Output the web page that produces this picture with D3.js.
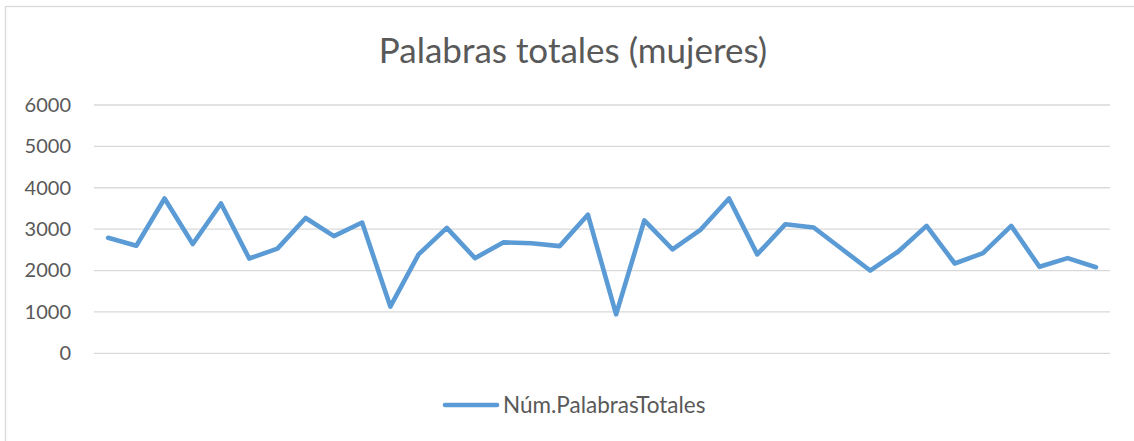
<!DOCTYPE html>
<html>
<head>
<meta charset="utf-8">
<script src="https://cdn.jsdelivr.net/npm/d3@7"></script>
<style>
  html, body { margin: 0; padding: 0; background: #ffffff; }
  svg { display: block; }
</style>
</head>
<body>
<svg id="chart" width="1134" height="441"></svg>
<script>
// Word counts per text (women authors), one value per category
const categories = d3.range(1, 37).map(String);
const palabrasTotales = [
  2790, 2600, 3740, 2640, 3620, 2290, 2530, 3270, 2830, 3160,
  1130, 2390, 3030, 2300, 2680, 2660, 2590, 3350, 940, 3210,
  2510, 2990, 3740, 2390, 3120, 3040, 2520, 2000, 2460, 3080,
  2170, 2420, 3080, 2090, 2300, 2080
];
const yTicks = [0, 1000, 2000, 3000, 4000, 5000, 6000];
const chartTitle = "Palabras totales (mujeres)";
const seriesName = "Núm.PalabrasTotales";

const fontFamily = "Lato, 'Open Sans', sans-serif";
const textColor = "#595959";
const lineColor = "#5b9bd5";

const svg = d3.select("#chart");

// Chart frame
svg.append("rect")
  .attr("x", 5.5).attr("y", 6.5)
  .attr("width", 1135).attr("height", 440)
  .attr("fill", "#ffffff")
  .attr("stroke", "#d9d9d9")
  .attr("stroke-width", 1.3);

// Plot area
const plot = { left: 94, right: 1110, top: 105, bottom: 353.3 };

const x = d3.scaleBand()
  .domain(categories)
  .range([plot.left, plot.right]);

const y = d3.scaleLinear()
  .domain([0, 6000])
  .range([plot.bottom, plot.top]);

// Horizontal gridlines
svg.append("g")
  .selectAll("line")
  .data(yTicks)
  .join("line")
  .attr("x1", plot.left).attr("x2", plot.right)
  .attr("y1", d => y(d)).attr("y2", d => y(d))
  .attr("stroke", "#d9d9d9")
  .attr("stroke-width", 1.3);

// Value axis labels
const yAxis = d3.axisLeft(y)
  .tickValues(yTicks)
  .tickFormat(d3.format("d"))
  .tickSize(0)
  .tickPadding(23);
const yAxisG = svg.append("g")
  .attr("transform", `translate(${plot.left},0)`)
  .call(yAxis);
yAxisG.select(".domain").remove();
yAxisG.selectAll("text")
  .attr("fill", textColor)
  .style("font-family", fontFamily)
  .style("font-size", "20px");

// Series line
const line = d3.line()
  .x((d, i) => x(categories[i]) + x.bandwidth() / 2)
  .y(d => y(d));

svg.append("path")
  .datum(palabrasTotales)
  .attr("d", line)
  .attr("fill", "none")
  .attr("stroke", lineColor)
  .attr("stroke-width", 4.6)
  .attr("stroke-linejoin", "round")
  .attr("stroke-linecap", "round");

// Title
svg.append("text")
  .attr("x", 573).attr("y", 63)
  .attr("text-anchor", "middle")
  .attr("fill", textColor)
  .style("font-family", fontFamily)
  .style("font-size", "35px")
  .text(chartTitle);

// Legend
const legend = svg.append("g").attr("transform", "translate(443,405)");
legend.append("line")
  .attr("x1", 2).attr("x2", 54)
  .attr("y1", 0).attr("y2", 0)
  .attr("stroke", lineColor)
  .attr("stroke-width", 4.6)
  .attr("stroke-linecap", "round");
legend.append("text")
  .attr("x", 60).attr("y", 0)
  .attr("dy", "0.35em")
  .attr("fill", textColor)
  .style("font-family", fontFamily)
  .style("font-size", "22.5px")
  .text(seriesName);
</script>
</body>
</html>
